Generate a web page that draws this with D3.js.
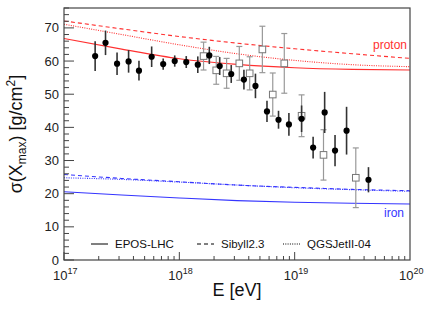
<!DOCTYPE html>
<html>
<head>
<meta charset="utf-8">
<script src="https://cdn.jsdelivr.net/npm/d3@7"></script>
<style>
  body { margin: 0; background: #fff; }
  svg { display: block; font-family: "Liberation Sans", Arial, sans-serif; }
</style>
</head>
<body>
<svg width="432" height="316"></svg>
<script>
// filled points (lg E, sigma, error)
var dotLgE = [17.27, 17.36, 17.46, 17.56, 17.65, 17.76, 17.86, 17.96, 18.06, 18.16, 18.26,
              18.35, 18.45, 18.56, 18.66, 18.76, 18.86, 18.95, 19.06, 19.16, 19.26, 19.35, 19.45, 19.64];
var dotVal = [61.5, 65.5, 59.2, 59.9, 57.1, 61.3, 59.1, 60.0, 59.7, 58.9, 61.7,
              58.5, 56.1, 54.4, 52.5, 44.8, 42.3, 40.9, 42.6, 33.9, 44.5, 33.0, 39.0, 24.2];
var dotErr = [4.5, 3.7, 3.4, 3.4, 3.0, 3.1, 1.7, 1.7, 1.8, 2.5, 2.6,
              2.7, 2.7, 3.0, 3.7, 3.2, 2.7, 3.4, 4.0, 3.3, 6.2, 4.7, 7.2, 3.8];

// open squares
var sqLgE = [18.21, 18.32, 18.41, 18.52, 18.61, 18.72, 18.81, 18.91, 19.06, 19.25, 19.53];
var sqVal = [61.5, 57.2, 56.3, 59.3, 56.3, 63.5, 49.9, 59.3, 43.5, 31.7, 24.8];
var sqErr = [4.2, 4.2, 4.5, 5.1, 5.0, 7.0, 6.5, 9.0, 6.3, 7.6, 9.0];

// model curves
var modelLgE = [17, 17.5, 18, 18.5, 19, 19.5, 20];
var pEpos   = [66.8, 63.6, 60.7, 59.0, 58.0, 57.5, 57.3];
var pSibyll = [72.1, 69.7, 67.4, 65.4, 63.7, 62.2, 60.8];
var pQgsjet = [71.1, 68.0, 64.9, 62.2, 60.2, 58.9, 58.3];
var feEpos   = [20.6, 19.6, 18.7, 17.9, 17.4, 17.1, 16.9];
var feSibyll = [25.8, 24.6, 23.6, 22.6, 21.9, 21.3, 20.9];
var feQgsjet = [24.8, 24.3, 23.5, 22.6, 21.8, 21.2, 20.7];

var legendNames = ["EPOS-LHC", "Sibyll2.3", "QGSJetII-04"];
var yTicks = [0, 10, 20, 30, 40, 50, 60, 70];

var svg = d3.select("svg"),
    pl = 64, pr = 410, pt = 8, pb = 260;

var x = d3.scaleLog().domain([1e17, 1e20]).range([pl, pr]),
    y = d3.scaleLinear().domain([0, 76]).range([pb, pt]);

var red = "#ff3030", blue = "#3535ff";
var dashes = [null, "4,3", "1,1.3"];

var line = d3.line()
    .x(function(d) { return x(Math.pow(10, d[0])); })
    .y(function(d) { return y(d[1]); })
    .curve(d3.curveMonotoneX);

var models = [
  {v: pEpos, c: red, k: 0}, {v: pSibyll, c: red, k: 1}, {v: pQgsjet, c: red, k: 2},
  {v: feEpos, c: blue, k: 0}, {v: feSibyll, c: blue, k: 1}, {v: feQgsjet, c: blue, k: 2}
];

svg.append("g").selectAll("path").data(models).enter().append("path")
    .attr("d", function(m) { return line(d3.zip(modelLgE, m.v)); })
    .attr("fill", "none")
    .attr("stroke", function(m) { return m.c; })
    .attr("stroke-width", 1.1)
    .attr("stroke-dasharray", function(m) { return dashes[m.k]; });

svg.append("text").attr("x", 407).attr("y", 49).attr("text-anchor", "end")
    .attr("fill", red).attr("font-size", 12).text("proton");
svg.append("text").attr("x", 404).attr("y", 217).attr("text-anchor", "end")
    .attr("fill", blue).attr("font-size", 12).text("iron");

// open squares with gray error bars
var sq = d3.zip(sqLgE, sqVal, sqErr);
var gs = svg.append("g").attr("stroke", "#999").attr("stroke-width", 1.2);
gs.selectAll(".bar").data(sq).enter().append("line")
    .attr("x1", function(d) { return x(Math.pow(10, d[0])); })
    .attr("x2", function(d) { return x(Math.pow(10, d[0])); })
    .attr("y1", function(d) { return y(d[1] + d[2]); })
    .attr("y2", function(d) { return y(d[1] - d[2]); });
gs.selectAll(".cap").data(sq.concat(sq)).enter().append("line")
    .attr("x1", function(d) { return x(Math.pow(10, d[0])) - 3; })
    .attr("x2", function(d) { return x(Math.pow(10, d[0])) + 3; })
    .attr("y1", function(d, i) { return y(i < sq.length ? d[1] + d[2] : d[1] - d[2]); })
    .attr("y2", function(d, i) { return y(i < sq.length ? d[1] + d[2] : d[1] - d[2]); });
svg.append("g").selectAll("rect").data(sq).enter().append("rect")
    .attr("x", function(d) { return x(Math.pow(10, d[0])) - 3.3; })
    .attr("y", function(d) { return y(d[1]) - 3.3; })
    .attr("width", 6.6).attr("height", 6.6)
    .attr("fill", "#fff").attr("stroke", "#777").attr("stroke-width", 1);

// filled points
var pts = d3.zip(dotLgE, dotVal, dotErr);
svg.append("g").attr("stroke", "#333").attr("stroke-width", 1.6)
  .selectAll("line").data(pts).enter().append("line")
    .attr("x1", function(d) { return x(Math.pow(10, d[0])); })
    .attr("x2", function(d) { return x(Math.pow(10, d[0])); })
    .attr("y1", function(d) { return y(d[1] + d[2]); })
    .attr("y2", function(d) { return y(d[1] - d[2]); });
svg.append("g").selectAll("circle").data(pts).enter().append("circle")
    .attr("cx", function(d) { return x(Math.pow(10, d[0])); })
    .attr("cy", function(d) { return y(d[1]); })
    .attr("r", 3.1).attr("fill", "#000");

// frame
svg.append("rect").attr("x", pl).attr("y", pt)
    .attr("width", pr - pl).attr("height", pb - pt)
    .attr("fill", "none").attr("stroke", "#444").attr("stroke-width", 1.2);

// y axis ticks (inside)
var gy = svg.append("g").attr("stroke", "#444").attr("stroke-width", 1);
d3.range(0, 77, 2).forEach(function(v) {
  var len = v % 10 === 0 ? 10 : 5;
  gy.append("line").attr("x1", pl).attr("x2", pl + len).attr("y1", y(v)).attr("y2", y(v));
});
svg.append("g").selectAll("text").data(yTicks).enter().append("text")
    .attr("x", pl - 5).attr("y", function(d) { return y(d) + 4.5; })
    .attr("text-anchor", "end").attr("font-size", 13).attr("fill", "#222")
    .text(function(d) { return d; });

// x axis ticks (inside)
var gx = svg.append("g").attr("stroke", "#444").attr("stroke-width", 1);
[17, 18, 19].forEach(function(p) {
  for (var m = 1; m <= 9; m++) {
    var e = m * Math.pow(10, p), len = m === 1 ? 8 : 4;
    gx.append("line").attr("x1", x(e)).attr("x2", x(e)).attr("y1", pb).attr("y2", pb - len);
  }
});
[17, 18, 19, 20].forEach(function(p) {
  var t = svg.append("text").attr("x", x(Math.pow(10, p)) - 11).attr("y", 280)
      .attr("font-size", 13).attr("fill", "#222");
  t.append("tspan").text("10");
  t.append("tspan").attr("dy", -6).attr("font-size", 9).text(p);
});

// axis titles
svg.append("text").attr("x", 237).attr("y", 296).attr("text-anchor", "middle")
    .attr("font-size", 18).attr("fill", "#111").text("E [eV]");
var yt = svg.append("text").attr("transform", "translate(22,134) rotate(-90)")
    .attr("text-anchor", "middle").attr("font-size", 18).attr("fill", "#111");
yt.append("tspan").text("σ(X");
yt.append("tspan").attr("dy", 4).attr("font-size", 12).text("max");
yt.append("tspan").attr("dy", -4).text(") [g/cm");
yt.append("tspan").attr("dy", -7).attr("font-size", 12).text("2");
yt.append("tspan").attr("dy", 7).text("]");

// legend
var legX = [91, 197, 283], legY = 244;
var lg = svg.append("g").selectAll("g").data(legendNames).enter().append("g");
lg.append("line")
    .attr("x1", function(d, i) { return legX[i]; })
    .attr("x2", function(d, i) { return legX[i] + 17; })
    .attr("y1", legY).attr("y2", legY)
    .attr("stroke", "#000").attr("stroke-width", 1)
    .attr("stroke-dasharray", function(d, i) { return dashes[i]; });
lg.append("text")
    .attr("x", function(d, i) { return legX[i] + 24; })
    .attr("y", legY + 4).attr("font-size", 11.5).attr("fill", "#111")
    .text(function(d) { return d; });
</script>
</body>
</html>
